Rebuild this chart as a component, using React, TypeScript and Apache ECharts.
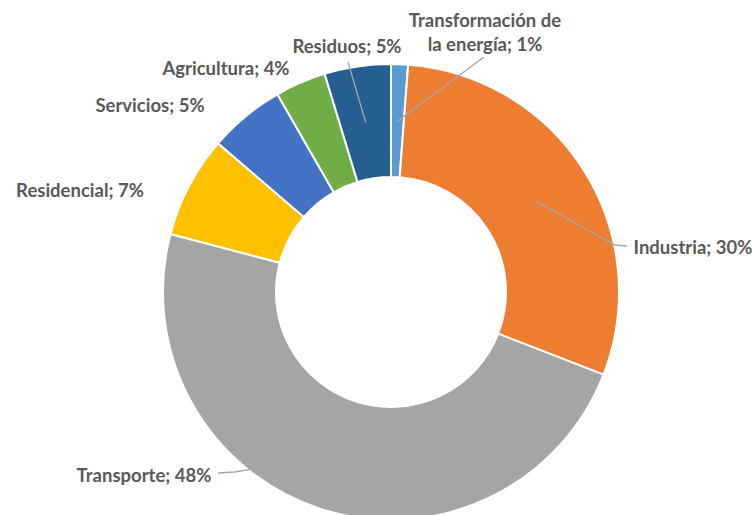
import React, { useEffect, useRef } from "react";
import * as echarts from "echarts";

const categories = [
  "Transformación de la energía",
  "Industria",
  "Transporte",
  "Residencial",
  "Servicios",
  "Agricultura",
  "Residuos",
];
const shares = [1.2, 29.7, 48.2, 7.2, 5.4, 3.6, 4.7];
const colors = ["#5B9BD5", "#ED7D31", "#A5A5A5", "#FFC000", "#4472C4", "#70AD47", "#255E91"];

// label placement (layout only)
const labelPos: number[][] = [
  [485, 32],
  [693, 247],
  [144, 475],
  [80, 190],
  [150, 105],
  [226, 68],
  [347, 46],
];
const leaderEnds: (number[][] | null)[] = [
  [[484, 57]],
  [[615, 245], [627, 246]],
  [[235, 472], [218, 473]],
  null,
  null,
  null,
  [[348, 62]],
];

export default function App() {
  const ref = useRef<HTMLDivElement>(null);
  useEffect(() => {
    document.body.style.margin = "0";
    const chart = echarts.init(ref.current!, null, { renderer: "svg" });
    const data = categories.map((name, i) => ({
      name,
      value: shares[i],
      itemStyle: { color: colors[i] },
    }));
    chart.setOption({
      animation: false,
      backgroundColor: "#ffffff",
      series: [
        {
          type: "pie",
          z: 2,
          center: [391, 292],
          radius: [115, 228],
          startAngle: 90,
          clockwise: true,
          silent: true,
          label: { show: false },
          labelLine: { show: false },
          itemStyle: { borderColor: "#ffffff", borderWidth: 2 },
          data,
        },
        {
          type: "pie",
          z: 6,
          center: [391, 292],
          radius: [0, 171],
          startAngle: 90,
          clockwise: true,
          silent: true,
          avoidLabelOverlap: false,
          percentPrecision: 0,
          itemStyle: { color: "transparent" },
          label: {
            show: true,
            position: "outside",
            fontFamily: "Lato",
            fontWeight: "bold",
            fontSize: 18.5,
            lineHeight: 24,
            color: "#595959",
            formatter: (p: any) =>
              `${String(p.name).replace("de la", "de\nla")}; ${Math.round(p.percent)}%`,
          },
          labelLine: {
            show: true,
            length: 10,
            length2: 10,
            lineStyle: { color: "#A6A6A6", width: 1.3 },
          },
          labelLayout: (params: any) => {
            const i = params.dataIndex;
            const res: any = {
              x: labelPos[i][0],
              y: labelPos[i][1],
              align: "center",
              verticalAlign: "middle",
            };
            const ends = leaderEnds[i];
            if (ends && params.labelLinePoints) {
              res.labelLinePoints = [params.labelLinePoints[0], ...ends];
            }
            return res;
          },
          data: categories.map((name, i) => ({
            name,
            value: shares[i],
            itemStyle: { color: "transparent" },
            labelLine: { show: leaderEnds[i] != null },
          })),
        },
      ],
    });
    return () => chart.dispose();
  }, []);
  return <div ref={ref} style={{ width: 755, height: 515 }} />;
}
